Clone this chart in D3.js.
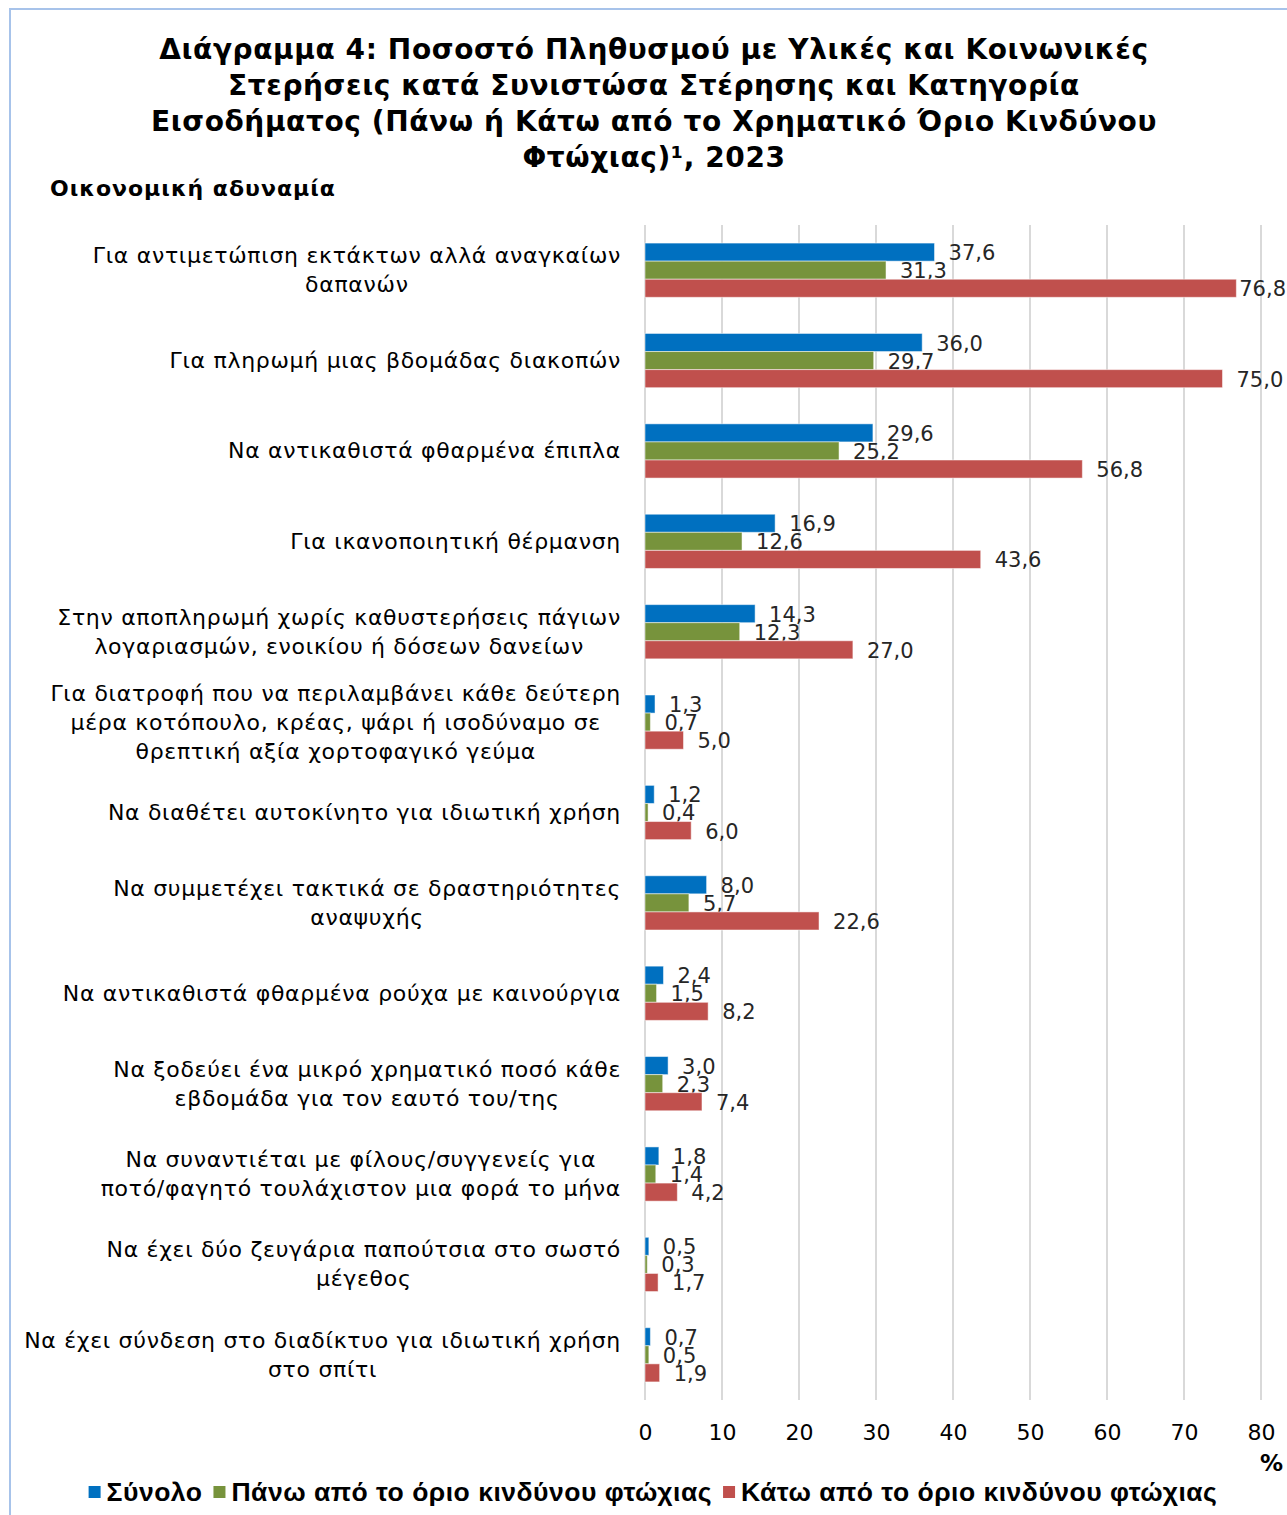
<!DOCTYPE html>
<html>
<head>
<meta charset="utf-8">
<script src="https://cdn.jsdelivr.net/npm/d3@7"></script>
<style>
  body { margin: 0; background: #fff; }
  svg { display: block; }
</style>
</head>
<body>
<svg id="chart" width="1287" height="1515"></svg>
<script>
// chart data
var categories = [
    ["Για αντιμετώπιση εκτάκτων αλλά αναγκαίων", "δαπανών"],
    ["Για πληρωμή μιας βδομάδας διακοπών"],
    ["Να αντικαθιστά φθαρμένα έπιπλα"],
    ["Για ικανοποιητική θέρμανση"],
    ["Στην αποπληρωμή χωρίς καθυστερήσεις πάγιων", "λογαριασμών, ενοικίου ή δόσεων δανείων"],
    ["Για διατροφή που να περιλαμβάνει κάθε δεύτερη", "μέρα κοτόπουλο, κρέας, ψάρι ή ισοδύναμο σε", "θρεπτική αξία χορτοφαγικό γεύμα"],
    ["Να διαθέτει αυτοκίνητο για ιδιωτική χρήση"],
    ["Να συμμετέχει τακτικά σε δραστηριότητες", "αναψυχής"],
    ["Να αντικαθιστά φθαρμένα ρούχα με καινούργια"],
    ["Να ξοδεύει ένα μικρό χρηματικό ποσό κάθε", "εβδομάδα για τον εαυτό του/της"],
    ["Να συναντιέται με φίλους/συγγενείς για", "ποτό/φαγητό τουλάχιστον μια φορά το μήνα"],
    ["Να έχει δύο ζευγάρια παπούτσια στο σωστό", "μέγεθος"],
    ["Να έχει σύνδεση στο διαδίκτυο για ιδιωτική χρήση", "στο σπίτι"]
];
var total = [37.6, 36.0, 29.6, 16.9, 14.3, 1.3, 1.2, 8.0, 2.4, 3.0, 1.8, 0.5, 0.7];
var above = [31.3, 29.7, 25.2, 12.6, 12.3, 0.7, 0.4, 5.7, 1.5, 2.3, 1.4, 0.3, 0.5];
var below = [76.8, 75.0, 56.8, 43.6, 27.0, 5.0, 6.0, 22.6, 8.2, 7.4, 4.2, 1.7, 1.9];
var seriesNames = ["Σύνολο", "Πάνω από το όριο κινδύνου φτώχιας", "Κάτω από το όριο κινδύνου φτώχιας"];
var seriesColors = ["#0070c0", "#77933c", "#c0504d"];
var xTicks = [0, 10, 20, 30, 40, 50, 60, 70, 80];
var titleLines = [
    "Διάγραμμα 4: Ποσοστό Πληθυσμού με Υλικές και Κοινωνικές",
    "Στερήσεις κατά Συνιστώσα Στέρησης και Κατηγορία",
    "Εισοδήματος (Πάνω ή Κάτω από το Χρηματικό Όριο Κινδύνου",
    "Φτώχιας)¹, 2023"
];
var subtitle = "Οικονομική αδυναμία";

var series = [total, above, below];
var font = "'DejaVu Sans', Verdana, sans-serif";
var W = 1287;

var svg = d3.select("#chart");

// outer frame
svg.append("rect")
    .attr("x", 10).attr("y", 9)
    .attr("width", 1300).attr("height", 1530)
    .attr("fill", "none")
    .attr("stroke", "#a7c3ea")
    .attr("stroke-width", 2);

// title
var title = svg.append("text")
    .attr("font-family", font)
    .attr("font-weight", "bold")
    .attr("font-size", 28)
    .attr("letter-spacing", 0.6)
    .attr("fill", "#000")
    .attr("text-anchor", "middle");
titleLines.forEach(function(l, i){
    title.append("tspan").attr("x", 654).attr("y", 59 + i*36).text(l);
});

svg.append("text")
    .attr("x", 50).attr("y", 196)
    .attr("font-family", font)
    .attr("font-weight", "bold")
    .attr("font-size", 22)
    .attr("letter-spacing", 1)
    .text(subtitle);

// scales
var x = d3.scaleLinear().domain([0, 80]).range([645, 1261]);
var y = d3.scaleBand()
    .domain(d3.range(categories.length))
    .range([225, 1400])
    .paddingInner(0.4)
    .paddingOuter(0.2);
var ySub = d3.scaleBand().domain([0, 1, 2]).range([0, y.bandwidth()]);

// gridlines
svg.append("g")
    .selectAll("line")
    .data(xTicks)
    .join("line")
    .attr("x1", function(d){ return x(d); })
    .attr("x2", function(d){ return x(d); })
    .attr("y1", 225).attr("y2", 1400)
    .attr("stroke", "#d9d9d9")
    .attr("stroke-width", 2);

// x axis labels
var xAxis = d3.axisBottom(x).tickValues(xTicks).tickSize(0).tickPadding(0);
var gx = svg.append("g")
    .attr("transform", "translate(0,1424)")
    .call(xAxis);
gx.select(".domain").remove();
gx.selectAll("text")
    .attr("font-family", font)
    .attr("font-size", 22)
    .attr("fill", "#000");

svg.append("text")
    .attr("x", 1283).attr("y", 1471)
    .attr("text-anchor", "end")
    .attr("font-family", font)
    .attr("font-weight", "bold")
    .attr("font-size", 23)
    .text("%");

// bars
var groups = svg.append("g")
    .selectAll("g")
    .data(categories)
    .join("g")
    .attr("transform", function(d, i){ return "translate(0," + y(i) + ")"; });

series.forEach(function(vals, s){
    groups.append("rect")
        .attr("x", x(0))
        .attr("y", ySub(s))
        .attr("width", function(d, i){ return x(vals[i]) - x(0); })
        .attr("height", ySub.bandwidth())
        .attr("fill", seriesColors[s])
        .attr("stroke", "#ffffff")
        .attr("stroke-opacity", 0.5)
        .attr("stroke-width", 1);
    groups.append("text")
        .attr("y", ySub(s) + ySub.bandwidth()/2 + 1)
        .attr("dominant-baseline", "central")
        .attr("font-family", font)
        .attr("font-size", 21)
        .attr("fill", "#262626")
        .text(function(d, i){ return d3.format(".1f")(vals[i]).replace(".", ","); })
        .attr("x", function(d, i){
            // keep the label inside the picture, as the original does
            var w = this.getComputedTextLength();
            return Math.min(x(vals[i]) + 14, W - 1 - w);
        });
});

// category labels, centred block whose widest line ends at 621
var lineH = 29;
groups.each(function(lines, i){
    var g = d3.select(this);
    var t = g.append("text")
        .attr("font-family", font)
        .attr("font-size", 22)
        .attr("letter-spacing", 0.7)
        .attr("fill", "#000")
        .attr("text-anchor", "middle");
    var spans = lines.map(function(l, k){
        return t.append("tspan")
            .attr("y", y.bandwidth()/2 + (k - (lines.length - 1)/2) * lineH)
            .attr("dominant-baseline", "central")
            .text(l);
    });
    var w = d3.max(spans, function(s){ return s.node().getComputedTextLength(); });
    spans.forEach(function(s){ s.attr("x", 621 - w/2); });
});

// legend
var legend = svg.append("g");
var lx = 0;
seriesNames.forEach(function(name, s){
    var it = legend.append("g").attr("transform", "translate(" + lx + ",0)");
    it.append("rect")
        .attr("x", 0).attr("y", -6)
        .attr("width", 12).attr("height", 12)
        .attr("fill", seriesColors[s]);
    var tx = it.append("text")
        .attr("x", 18)
        .attr("dominant-baseline", "central")
        .attr("font-family", "'Liberation Sans', Arial, sans-serif")
        .attr("font-weight", "bold")
        .attr("font-size", 26.5)
        .attr("letter-spacing", 0.5)
        .text(name);
    lx += 18 + tx.node().getComputedTextLength() + 11;
});
var legendW = lx - 11;
legend.attr("transform", "translate(" + (653 - legendW/2) + ",1492)");
</script>
</body>
</html>
